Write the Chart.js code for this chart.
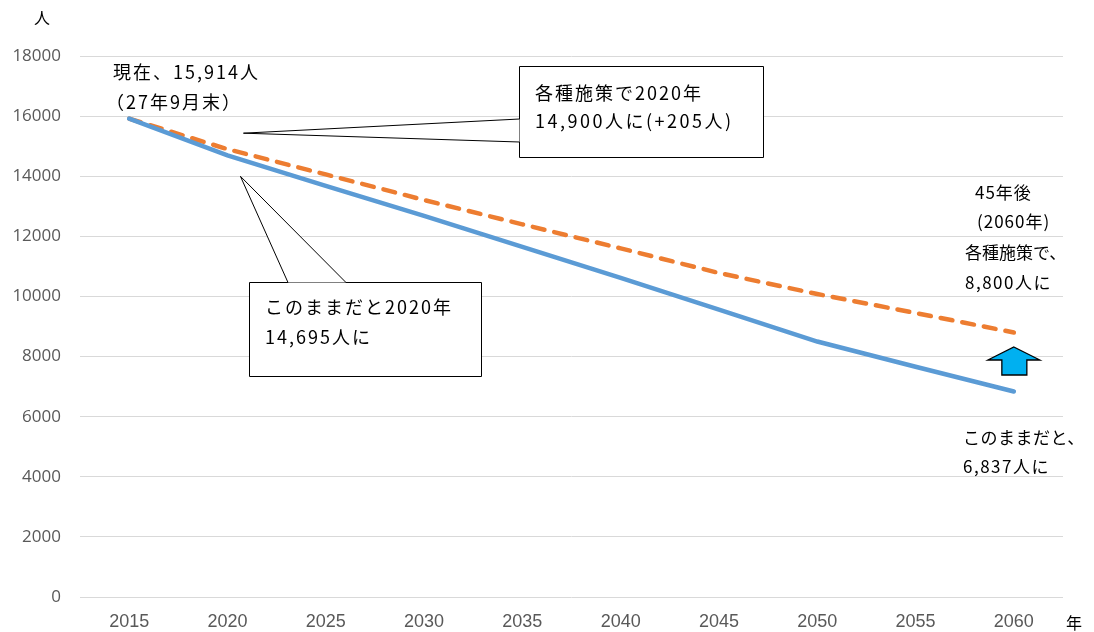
<!DOCTYPE html>
<html>
<head>
<meta charset="utf-8">
<script src="https://cdn.jsdelivr.net/npm/chart.js@4"></script>
<style>
  html, body { margin: 0; padding: 0; background: #fff; }
  #wrap { width: 1094px; height: 632px; }
</style>
</head>
<body>
<div id="wrap"><canvas id="chart" width="1094" height="632"></canvas></div>
<script>
'use strict';

// 年
const years = ['2015', '2020', '2025', '2030', '2035', '2040', '2045', '2050', '2055', '2060'];
// このまま推移した場合
const trendPop = [15914, 14695, 13680, 12680, 11650, 10620, 9560, 8500, 7660, 6837];
// 各種施策を実施した場合
const policyPop = [15914, 14900, 14060, 13210, 12400, 11600, 10780, 10080, 9450, 8800];
const yTicks = [0, 2000, 4000, 6000, 8000, 10000, 12000, 14000, 16000, 18000];

const JP = '"Noto Sans CJK JP", "Noto Sans", sans-serif';

function text(ctx, str, x, y, size, spacing) {
    ctx.font = size + 'px ' + JP;
    ctx.letterSpacing = (spacing || 0) + 'px';
    ctx.fillText(str, x, y);
}

// callout boxes, labels and the arrow
const notes = {
    id: 'notes',
    afterDraw: (chart) => {
        const ctx = chart.ctx;
        const xs = chart.scales.x;
        const ys = chart.scales.y;
        ctx.save();
        ctx.fillStyle = '#000';
        ctx.textBaseline = 'middle';
        ctx.textAlign = 'left';

        // axis units
        text(ctx, '人', 34, 18, 16);
        text(ctx, '年', 1066, 623, 16);

        // 現在
        text(ctx, '現在、15,914人', 113, 72, 18, 2);
        text(ctx, '（27年9月末）', 106, 102, 18, 2);

        ctx.strokeStyle = '#000';
        ctx.lineWidth = 1;

        // callout: 各種施策で
        const t1x = xs.getPixelForValue(1) + 16;
        const t1y = ys.getPixelForValue(policyPop[1]) - 16;
        ctx.beginPath();
        ctx.rect(519.5, 66.5, 244, 91);
        ctx.fillStyle = '#fff';
        ctx.fill();
        ctx.stroke();
        ctx.beginPath();
        ctx.moveTo(519.5, 119);
        ctx.lineTo(t1x, t1y);
        ctx.lineTo(519.5, 142);
        ctx.fill();
        ctx.stroke();
        ctx.fillStyle = '#000';
        text(ctx, '各種施策で2020年', 535, 93, 18, 2);
        text(ctx, '14,900人に(+205人)', 535, 121, 18, 2.5);

        // callout: このままだと
        const t2x = xs.getPixelForValue(1) + 13;
        const t2y = ys.getPixelForValue(trendPop[1]) + 21;
        ctx.beginPath();
        ctx.rect(249.5, 282.5, 232, 94);
        ctx.fillStyle = '#fff';
        ctx.fill();
        ctx.stroke();
        ctx.beginPath();
        ctx.moveTo(288, 282.5);
        ctx.lineTo(t2x, t2y);
        ctx.lineTo(346, 282.5);
        ctx.fill();
        ctx.stroke();
        ctx.fillStyle = '#000';
        text(ctx, 'このままだと2020年', 265, 307, 18, 2);
        text(ctx, '14,695人に', 265, 337, 18, 2);

        // 2060 labels
        text(ctx, '45年後', 975, 193, 17, 1);
        text(ctx, '(2060年)', 977, 222, 17, 1);
        text(ctx, '各種施策で、', 965, 253, 17, 0);
        text(ctx, '8,800人に', 965, 283, 17, 1.5);
        text(ctx, 'このままだと、', 963, 438, 17, 0.5);
        text(ctx, '6,837人に', 963, 467, 17, 1.5);

        // up arrow
        const ax = xs.getPixelForValue(9);
        ctx.beginPath();
        ctx.moveTo(ax, 347);
        ctx.lineTo(ax + 26, 360);
        ctx.lineTo(ax + 13, 360);
        ctx.lineTo(ax + 13, 375);
        ctx.lineTo(ax - 12, 375);
        ctx.lineTo(ax - 12, 360);
        ctx.lineTo(ax - 26, 360);
        ctx.closePath();
        ctx.fillStyle = '#00B0F0';
        ctx.fill();
        ctx.lineWidth = 1.3;
        ctx.stroke();
        ctx.restore();
    }
};

new Chart(document.getElementById('chart'), {
    type: 'line',
    data: {
        labels: years,
        datasets: [{
            label: 'このまま',
            data: trendPop,
            borderColor: '#5B9BD5',
            borderWidth: 4.5,
            pointRadius: 0,
            tension: 0,
            borderCapStyle: 'round'
        }, {
            label: '各種施策',
            data: policyPop,
            borderColor: '#ED7D31',
            borderWidth: 4.5,
            borderDash: [12, 10],
            borderCapStyle: 'round',
            pointRadius: 0,
            tension: 0
        }]
    },
    plugins: [notes],
    options: {
        responsive: false,
        animation: false,
        layout: { padding: { top: 56, right: 31, left: 0, bottom: 0 } },
        plugins: {
            legend: { display: false },
            tooltip: { enabled: false }
        },
        scales: {
            x: {
                offset: true,
                grid: { display: false, drawTicks: false },
                border: { display: false },
                ticks: {
                    color: '#595959',
                    padding: 14,
                    maxRotation: 0,
                    font: { family: '"Liberation Sans Narrow", "Liberation Sans", sans-serif', size: 18 }
                },
                afterFit: (s) => { s.height = 35; }
            },
            y: {
                min: 0,
                max: 18000,
                afterBuildTicks: (s) => { s.ticks = yTicks.map(v => ({ value: v })); },
                grid: { color: '#D9D9D9', lineWidth: 1, drawTicks: false },
                border: { display: false },
                ticks: {
                    color: '#595959',
                    padding: 19,
                    callback: (v) => String(v),
                    font: { family: '"Open Sans", sans-serif', size: 17 }
                },
                afterFit: (s) => { s.width = 80; }
            }
        }
    }
});
</script>
</body>
</html>
